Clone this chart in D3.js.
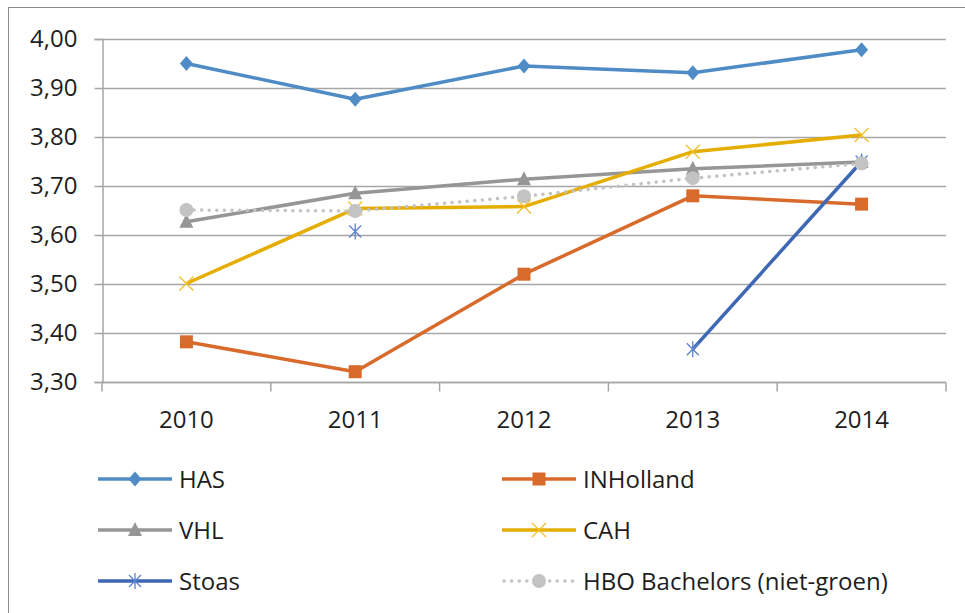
<!DOCTYPE html>
<html>
<head>
<meta charset="utf-8">
<script src="https://cdn.jsdelivr.net/npm/d3@7"></script>
<style>
  body { margin: 0; background: #fff; }
  svg text { font-family: "Open Sans", "Noto Sans", sans-serif; fill: #1e1e1e; }
</style>
</head>
<body>
<svg id="chart" width="965" height="613"></svg>
<script>
// categories + values
const years = ['2010', '2011', '2012', '2013', '2014'];
const yTicks = [3.3, 3.4, 3.5, 3.6, 3.7, 3.8, 3.9, 4.0];

const has = [3.950, 3.877, 3.945, 3.931, 3.978];
const inholland = [3.382, 3.321, 3.520, 3.680, 3.663];
const vhl = [3.627, 3.685, 3.714, 3.735, 3.749];
const cah = [3.501, 3.654, 3.658, 3.770, 3.804];
const stoas = [null, 3.607, null, 3.367, 3.750];
const hbo = [3.651, 3.649, 3.679, 3.716, 3.746];

const series = [
  { name: 'HAS', values: has, color: '#4f8cc6', marker: 'diamond' },
  { name: 'INHolland', values: inholland, color: '#d86b2c', marker: 'square' },
  { name: 'VHL', values: vhl, color: '#969696', marker: 'triangle' },
  { name: 'CAH', values: cah, color: '#e5ad00', markerColor: '#f2bf2e', marker: 'x' },
  { name: 'Stoas', values: stoas, color: '#3e67b5', markerColor: '#5b82cc', marker: 'star' },
  { name: 'HBO Bachelors (niet-groen)', values: hbo, color: '#c3c3c3', marker: 'circle', dotted: true }
];

const svg = d3.select('#chart');
const margin = { left: 102, top: 39, right: 946, bottom: 382 };

// chart area border (cropped on right/bottom in the reference)
svg.append('rect')
  .attr('x', 8.5).attr('y', 7.5)
  .attr('width', 1000).attr('height', 1000)
  .attr('fill', 'none').attr('stroke', '#8c8c8c').attr('stroke-width', 1);

const x = d3.scaleBand().domain(years).range([margin.left, margin.right]);
const y = d3.scaleLinear().domain([3.3, 4.0]).range([margin.bottom, margin.top]);

// gridlines
svg.append('g').selectAll('line')
  .data(yTicks)
  .join('line')
  .attr('x1', margin.left).attr('x2', margin.right)
  .attr('y1', d => Math.round(y(d)) + 0.5).attr('y2', d => Math.round(y(d)) + 0.5)
  .attr('stroke', '#a6a6a6').attr('stroke-width', 1.5);

// y axis
const yAxis = svg.append('g')
  .attr('transform', `translate(${margin.left + 0.5},0)`)
  .call(d3.axisLeft(y).tickValues(yTicks).tickSize(8).tickPadding(17)
    .tickFormat(d => d3.format('.2f')(d).replace('.', ',')));
yAxis.select('.domain').attr('stroke', '#a6a6a6').attr('stroke-width', 1.5);
yAxis.selectAll('.tick line').attr('stroke', '#a6a6a6').attr('stroke-width', 1.5);
yAxis.selectAll('text').attr('font-size', 24).attr('fill', '#1e1e1e')
  .style('font-family', '"Open Sans", sans-serif');

// x axis with ticks at category boundaries
const xAxis = svg.append('g').attr('transform', `translate(0,${margin.bottom + 0.5})`);
xAxis.append('line')
  .attr('x1', margin.left).attr('x2', margin.right)
  .attr('stroke', '#a6a6a6').attr('stroke-width', 1.5);
const bounds = years.map(d => x(d)).concat([x(years[years.length - 1]) + x.bandwidth()]);
xAxis.selectAll('line.tk')
  .data(bounds)
  .join('line').attr('class', 'tk')
  .attr('x1', d => d).attr('x2', d => d)
  .attr('y1', 0).attr('y2', 9)
  .attr('stroke', '#a6a6a6').attr('stroke-width', 1.5);
xAxis.selectAll('text')
  .data(years)
  .join('text')
  .attr('x', d => x(d) + x.bandwidth() / 2)
  .attr('y', 45)
  .attr('text-anchor', 'middle')
  .attr('font-size', 24)
  .text(d => d);

const cx = i => x(years[i]) + x.bandwidth() / 2;

function drawMarker(g, type, color, mColor) {
  if (type === 'diamond') {
    g.append('path').attr('d', 'M0,-7.5L6.5,0L0,7.5L-6.5,0Z').attr('fill', color);
  } else if (type === 'square') {
    g.append('rect').attr('x', -6.5).attr('y', -6.5).attr('width', 13).attr('height', 13).attr('fill', color);
  } else if (type === 'triangle') {
    g.append('path').attr('d', 'M0,-8L7,6L-7,6Z').attr('fill', color);
  } else if (type === 'x') {
    g.append('path').attr('d', 'M-7,-7L7,7M-7,7L7,-7').attr('stroke', mColor).attr('stroke-width', 1.3).attr('fill', 'none');
  } else if (type === 'star') {
    g.append('path').attr('d', 'M-6,-6L6,6M-6,6L6,-6M0,-8L0,8').attr('stroke', mColor).attr('stroke-width', 1.3).attr('fill', 'none');
  } else if (type === 'circle') {
    g.append('circle').attr('r', 7).attr('fill', color);
  }
}

const line = d3.line()
  .defined(d => d.v !== null)
  .x(d => cx(d.i))
  .y(d => y(d.v));

series.forEach(s => {
  const pts = s.values.map((v, i) => ({ v, i }));
  const g = svg.append('g');
  g.append('path')
    .datum(pts)
    .attr('d', line)
    .attr('fill', 'none')
    .attr('stroke', s.color)
    .attr('stroke-width', 3.5)
    .attr('stroke-linejoin', 'round')
    .attr('stroke-dasharray', s.dotted ? '0.1 7.5' : null)
    .attr('stroke-linecap', s.dotted ? 'round' : 'butt');
  pts.filter(p => p.v !== null).forEach(p => {
    const m = g.append('g').attr('transform', `translate(${cx(p.i)},${y(p.v)})`);
    drawMarker(m, s.marker, s.color, s.markerColor || s.color);
  });
});

// legend, two columns
const legendX = [98, 502];
const legendY = [479, 530, 581];
series.forEach((s, i) => {
  const lx = legendX[i % 2];
  const ly = legendY[Math.floor(i / 2)];
  const g = svg.append('g').attr('transform', `translate(${lx},${ly})`);
  g.append('line')
    .attr('x1', s.dotted ? 2 : 0).attr('x2', 74)
    .attr('stroke', s.color)
    .attr('stroke-width', 3.5)
    .attr('stroke-dasharray', s.dotted ? '0.1 7.5' : null)
    .attr('stroke-linecap', s.dotted ? 'round' : 'butt');
  const m = g.append('g').attr('transform', 'translate(37,0)');
  drawMarker(m, s.marker, s.color, s.markerColor || s.color);
  g.append('text')
    .attr('x', 81)
    .attr('y', 8.5)
    .attr('font-size', 24)
    .text(s.name);
});
</script>
</body>
</html>
